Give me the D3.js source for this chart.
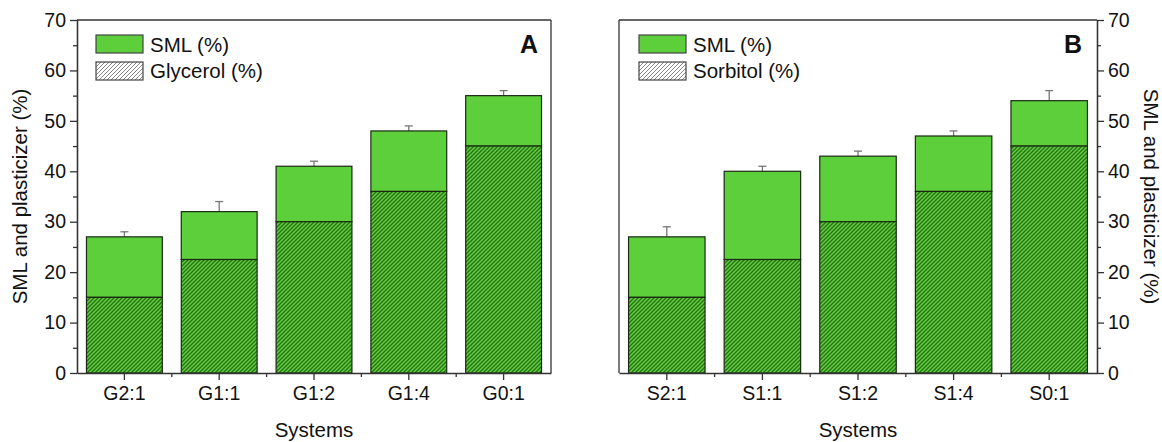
<!DOCTYPE html>
<html>
<head>
<meta charset="utf-8">
<script src="https://cdn.jsdelivr.net/npm/d3@7"></script>
<style>
  body { margin: 0; background: #fff; }
  svg { display: block; font-family: "Liberation Sans", Arial, sans-serif; }
  .axis path, .axis line { stroke: #333; stroke-width: 1.3; }
  .axis text { fill: #111; font-size: 19.5px; font-family: "Liberation Sans", Arial, sans-serif; }
</style>
</head>
<body>
<svg id="chart" width="1162" height="442"></svg>
<script>
// data
var catsA = ["G2:1", "G1:1", "G1:2", "G1:4", "G0:1"],
    totalA = [27, 32, 41, 48, 55],
    plastA = [15, 22.5, 30, 36, 45],
    errA = [1, 2, 1, 1, 1];

var catsB = ["S2:1", "S1:1", "S1:2", "S1:4", "S0:1"],
    totalB = [27, 40, 43, 47, 54],
    plastB = [15, 22.5, 30, 36, 45],
    errB = [2, 1, 1, 1, 2];

var yTicks = [0, 10, 20, 30, 40, 50, 60, 70],
    yMinor = [5, 15, 25, 35, 45, 55, 65];

var green = "#5dcf3b";

var svg = d3.select("#chart");

// hatch patterns
var defs = svg.append("defs");
function hatch(id, bg, line, w) {
    var p = defs.append("pattern")
        .attr("id", id)
        .attr("patternUnits", "userSpaceOnUse")
        .attr("width", 4)
        .attr("height", 4);
    p.append("rect").attr("width", 4).attr("height", 4).attr("fill", bg);
    p.append("path")
        .attr("d", "M-1,1 l2,-2 M0,4 l4,-4 M3,5 l2,-2")
        .attr("stroke", line)
        .attr("stroke-width", w);
}
hatch("hatchBar", green, "#2b6e1a", 1.3);
hatch("hatchLegend", "#fff", "#888", 1);

var y = d3.scaleLinear().domain([0, 70]).range([373, 20]);

function drawPanel(cats, total, plast, err, o) {
    var x = d3.scaleBand()
        .domain(cats)
        .range([o.left, o.right])
        .paddingInner(0.2)
        .paddingOuter(0.1);

    var g = svg.append("g");

    // frame
    g.append("line")
        .attr("x1", o.left).attr("x2", o.right)
        .attr("y1", y(70)).attr("y2", y(70))
        .attr("stroke", "#333").attr("stroke-width", 1.3);
    g.append("line")
        .attr("x1", o.frameX).attr("x2", o.frameX)
        .attr("y1", y(70)).attr("y2", y(0))
        .attr("stroke", "#333").attr("stroke-width", 1.3);

    var rows = cats.map((c, i) => ({c: c, t: total[i], p: plast[i], e: err[i]}));

    // error bars (upward only)
    var eb = g.selectAll(".err").data(rows).enter().append("g")
        .attr("stroke", "#777").attr("stroke-width", 1.3);
    eb.append("line")
        .attr("x1", d => x(d.c) + x.bandwidth() / 2)
        .attr("x2", d => x(d.c) + x.bandwidth() / 2)
        .attr("y1", d => y(d.t))
        .attr("y2", d => y(d.t + d.e));
    eb.append("line")
        .attr("x1", d => x(d.c) + x.bandwidth() / 2 - 4)
        .attr("x2", d => x(d.c) + x.bandwidth() / 2 + 4)
        .attr("y1", d => y(d.t + d.e))
        .attr("y2", d => y(d.t + d.e));

    // SML part (top)
    g.selectAll(".sml").data(rows).enter().append("rect")
        .attr("x", d => x(d.c))
        .attr("width", x.bandwidth())
        .attr("y", d => y(d.t))
        .attr("height", d => y(d.p) - y(d.t))
        .attr("fill", green)
        .attr("stroke", "#1a2a14").attr("stroke-width", 1.2);

    // plasticizer part (bottom, hatched)
    g.selectAll(".plast").data(rows).enter().append("rect")
        .attr("x", d => x(d.c))
        .attr("width", x.bandwidth())
        .attr("y", d => y(d.p))
        .attr("height", d => y(0) - y(d.p))
        .attr("fill", "url(#hatchBar)")
        .attr("stroke", "#1a2a14").attr("stroke-width", 1.2);

    // x axis
    var xAxis = d3.axisBottom(x).tickSize(7).tickSizeOuter(0).tickPadding(6);
    g.append("g").attr("class", "axis")
        .attr("transform", "translate(0," + y(0) + ")")
        .call(xAxis);

    // minor x ticks on the band edges
    var step = x.step();
    g.selectAll(".xminor").data(cats.slice(1)).enter().append("line")
        .attr("x1", d => x(d) - step * 0.1)
        .attr("x2", d => x(d) - step * 0.1)
        .attr("y1", y(0)).attr("y2", y(0) + 4)
        .attr("stroke", "#333").attr("stroke-width", 1.3);

    // y axis
    var yAxis = o.side == "left" ? d3.axisLeft(y) : d3.axisRight(y);
    yAxis.tickValues(yTicks).tickSize(7).tickSizeOuter(0).tickPadding(4);
    g.append("g").attr("class", "axis")
        .attr("transform", "translate(" + o.axisX + ",0)")
        .call(yAxis);
    var yAxisMinor = o.side == "left" ? d3.axisLeft(y) : d3.axisRight(y);
    yAxisMinor.tickValues(yMinor).tickSize(4).tickSizeOuter(0).tickFormat("");
    g.append("g").attr("class", "axis")
        .attr("transform", "translate(" + o.axisX + ",0)")
        .call(yAxisMinor);

    // axis titles
    g.append("text")
        .attr("x", (o.left + o.right) / 2)
        .attr("y", 437)
        .attr("text-anchor", "middle")
        .attr("font-size", 20.5)
        .attr("fill", "#111")
        .text("Systems");

    g.append("text")
        .attr("transform", "translate(" + o.titleX + "," + y(35) + ") rotate(" + o.titleRot + ")")
        .attr("text-anchor", "middle")
        .attr("dy", "0.35em")
        .attr("font-size", 20.5)
        .attr("fill", "#111")
        .text("SML and plasticizer (%)");

    // panel letter
    g.append("text")
        .attr("x", o.letterX).attr("y", 53)
        .attr("text-anchor", "end")
        .attr("font-size", 25)
        .attr("font-weight", "bold")
        .attr("fill", "#111")
        .text(o.letter);

    // legend
    var leg = g.append("g").attr("transform", "translate(" + o.legX + ",35)");
    var items = [{fill: green, label: "SML (%)"}, {fill: "url(#hatchLegend)", label: o.plastName + " (%)"}];
    leg.selectAll("rect").data(items).enter().append("rect")
        .attr("x", 0).attr("y", (d, i) => i * 27)
        .attr("width", 47).attr("height", 18)
        .attr("fill", d => d.fill)
        .attr("stroke", "#444").attr("stroke-width", 1.2);
    leg.selectAll("text").data(items).enter().append("text")
        .attr("x", 54).attr("y", (d, i) => 17 + i * 26)
        .attr("font-size", 20.5)
        .attr("fill", "#111")
        .text(d => d.label);
}

drawPanel(catsA, totalA, plastA, errA, {
    left: 77, right: 551, axisX: 77, frameX: 551, side: "left",
    titleX: 20, titleRot: -90, letter: "A", letterX: 538, legX: 96, plastName: "Glycerol"
});

drawPanel(catsB, totalB, plastB, errB, {
    left: 619, right: 1097, axisX: 1097, frameX: 619, side: "right",
    titleX: 1151, titleRot: 90, letter: "B", letterX: 1082, legX: 639, plastName: "Sorbitol"
});
</script>
</body>
</html>
